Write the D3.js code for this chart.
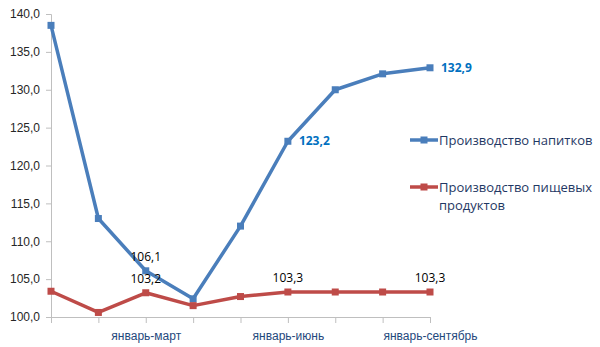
<!DOCTYPE html>
<html>
<head>
<meta charset="utf-8">
<script src="https://cdn.jsdelivr.net/npm/d3@7"></script>
<style>
  html, body { margin: 0; padding: 0; background: #fff; }
  svg { display: block; font-family: "Open Sans", "Noto Sans", sans-serif; }
</style>
</head>
<body>
<svg id="chart" width="600" height="347"></svg>
<script>
// Periods (cumulative months); only quarter-end periods carry a label
const periods = ["январь", "январь-февраль", "январь-март", "январь-апрель", "январь-май",
                 "январь-июнь", "январь-июль", "январь-август", "январь-сентябрь"];
const periodLabels = ["", "", "январь-март", "", "", "январь-июнь", "", "", "январь-сентябрь"];
const drinks = [138.5, 113.0, 106.1, 102.4, 112.0, 123.2, 130.0, 132.1, 132.9];
const food = [103.4, 100.6, 103.2, 101.5, 102.7, 103.3, 103.3, 103.3, 103.3];
const yTicks = [100, 105, 110, 115, 120, 125, 130, 135, 140];
const seriesNames = ["Производство напитков", "Производство пищевых продуктов"];

// value labels: [series index, point index, style]
const valueLabels = [
  { s: 0, i: 2, pos: "above", color: "#000" },
  { s: 0, i: 5, pos: "right", color: "#0070C0" },
  { s: 0, i: 8, pos: "right", color: "#0070C0" },
  { s: 1, i: 2, pos: "above", color: "#000" },
  { s: 1, i: 5, pos: "above", color: "#000" },
  { s: 1, i: 8, pos: "above", color: "#000" }
];

const colors = ["#4A7EBB", "#BE4B48"];
const data = [drinks, food];

const svg = d3.select("#chart");
const x = d3.scalePoint().domain(periods).range([51, 430]);
const y = d3.scaleLinear().domain([100, 140]).range([317, 14]);
const fmt = v => d3.format(".1f")(v).replace(".", ",");

// y axis
const yAxis = svg.append("g").attr("transform", "translate(51,0)")
  .call(d3.axisLeft(y).tickValues(yTicks).tickFormat(fmt).tickSize(5).tickPadding(6));
yAxis.select(".domain").attr("stroke", "#BFBFBF");
yAxis.selectAll(".tick line").attr("stroke", "#BFBFBF");
yAxis.selectAll(".tick text").attr("fill", "#262626").style("font-size", "12px");

// x axis
const xAxis = svg.append("g").attr("transform", "translate(0,317)")
  .call(d3.axisBottom(x).tickFormat((d, i) => periodLabels[i]).tickSize(6).tickPadding(8));
xAxis.select(".domain").attr("stroke", "#BFBFBF");
xAxis.selectAll(".tick line").attr("stroke", "#BFBFBF");
xAxis.selectAll(".tick text").attr("fill", "#1F497D").style("font-size", "12px");

// lines and markers
const line = d3.line().x((d, i) => x(periods[i])).y(d => y(d));
data.forEach((vals, s) => {
  svg.append("path").datum(vals)
    .attr("d", line).attr("fill", "none")
    .attr("stroke", colors[s]).attr("stroke-width", 3.5)
    .attr("stroke-linejoin", "round");
  svg.selectAll(null).data(vals).enter().append("rect")
    .attr("x", (d, i) => x(periods[i]) - 3.5)
    .attr("y", d => y(d) - 3.5)
    .attr("width", 7).attr("height", 7)
    .attr("fill", colors[s]);
});

// value labels
valueLabels.forEach(l => {
  const v = data[l.s][l.i];
  const px = x(periods[l.i]), py = y(v);
  const t = svg.append("text").text(fmt(v))
    .attr("fill", l.color).style("font-size", "12px");
  if (l.pos === "above") {
    t.attr("x", px).attr("y", py - 10).attr("text-anchor", "middle");
  } else {
    t.attr("x", px + 11).attr("y", py + 4).style("font-weight", "bold");
  }
});

// legend
const legend = svg.append("g");
const legendRows = [
  { y: 140, lines: [seriesNames[0]] },
  { y: 187, lines: ["Производство пищевых", "продуктов"] }
];
legendRows.forEach((r, s) => {
  legend.append("line").attr("x1", 410).attr("x2", 438)
    .attr("y1", r.y).attr("y2", r.y)
    .attr("stroke", colors[s]).attr("stroke-width", 3.5);
  legend.append("rect").attr("x", 420.5).attr("y", r.y - 3.5)
    .attr("width", 7).attr("height", 7).attr("fill", colors[s]);
  r.lines.forEach((txt, k) => {
    legend.append("text").text(txt)
      .attr("x", 439).attr("y", r.y + 5 + k * 18)
      .attr("fill", "#1F3864").style("font-size", "13px");
  });
});
</script>
</body>
</html>
